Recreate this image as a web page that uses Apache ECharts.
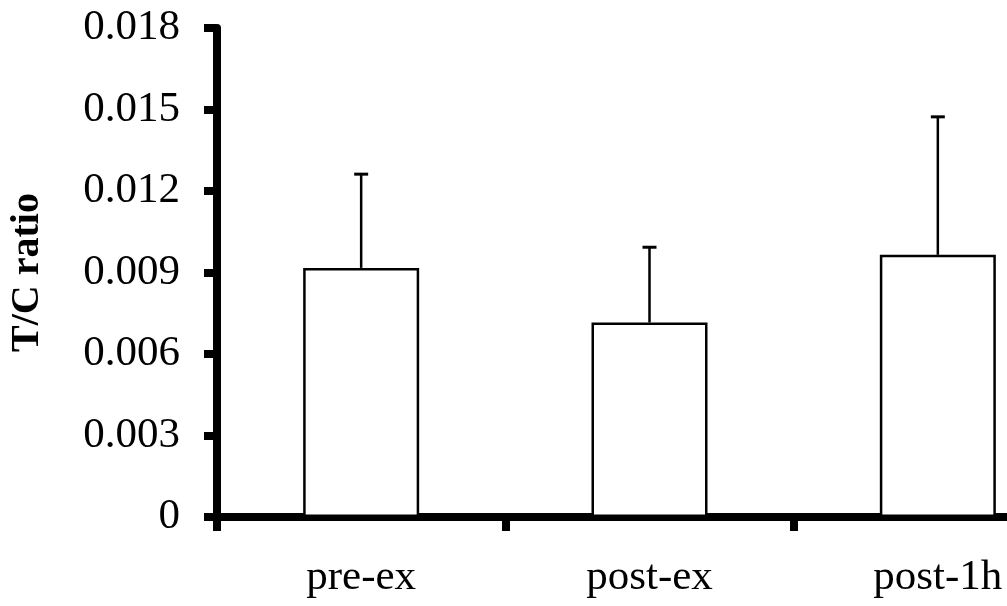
<!DOCTYPE html>
<html>
<head>
<meta charset="utf-8">
<script src="https://cdn.jsdelivr.net/npm/echarts@6/dist/echarts.min.js"></script>
<style>html,body{margin:0;padding:0;background:#fff;overflow:hidden;width:1007px;height:606px}#c{width:1082px;height:606px}</style>
</head>
<body>
<div id="c"></div>
<script>
var categories = ['pre-ex', 'post-ex', 'post-1h'];
var means = [0.00917, 0.00716, 0.00965];
var upperErr = [0.01262, 0.00993, 0.01473];
var yTicks = { min: 0, max: 0.018, interval: 0.003 };
var yTitle = 'T/C ratio';

var serif = '"Liberation Serif", "Times New Roman", serif';
var chart = echarts.init(document.getElementById('c'), null, { renderer: 'canvas' });
chart.setOption({
  animation: false,
  backgroundColor: '#fff',
  grid: { left: 215, top: 28, bottom: 89, right: 0, containLabel: false },
  xAxis: {
    type: 'category',
    data: categories,
    boundaryGap: true,
    axisLine: { lineStyle: { color: '#000', width: 8 } },
    axisTick: { show: true, alignWithLabel: false, length: 14, inside: false, lineStyle: { color: '#000', width: 8 } },
    axisLabel: { color: '#000', fontFamily: serif, fontSize: 43, margin: 39 },
    splitLine: { show: false }
  },
  yAxis: {
    type: 'value',
    min: yTicks.min, max: yTicks.max, interval: yTicks.interval,
    name: yTitle,
    nameLocation: 'middle',
    nameRotate: 90,
    nameGap: 169,
    nameTextStyle: { color: '#000', fontFamily: serif, fontSize: 40, fontWeight: 'bold' },
    axisLine: { show: true, lineStyle: { color: '#000', width: 8 } },
    axisTick: { show: true, length: 13, lineStyle: { color: '#000', width: 8 } },
    axisLabel: {
      color: '#000', fontFamily: serif, fontSize: 43, margin: 37,
      formatter: function (v) { return v === 0 ? '0' : v.toFixed(3); }
    },
    splitLine: { show: false }
  },
  series: [
    {
      type: 'bar',
      data: means,
      barWidth: 116,
      itemStyle: { color: '#fff', borderColor: '#000', borderWidth: 2.5 },
      z: 2
    },
    {
      type: 'custom',
      z: 3,
      data: categories.map(function (c, i) { return [i, means[i], upperErr[i]]; }),
      renderItem: function (params, api) {
        var base = api.coord([api.value(0), api.value(1)]);
        var top = api.coord([api.value(0), api.value(2)]);
        var x = base[0], hw = 7;
        return {
          type: 'group',
          children: [
            { type: 'line', shape: { x1: x, y1: base[1], x2: x, y2: top[1] }, style: { stroke: '#000', lineWidth: 2.5 } },
            { type: 'line', shape: { x1: x - hw, y1: top[1], x2: x + hw, y2: top[1] }, style: { stroke: '#000', lineWidth: 3 } }
          ]
        };
      }
    }
  ]
});
</script>
</body>
</html>
